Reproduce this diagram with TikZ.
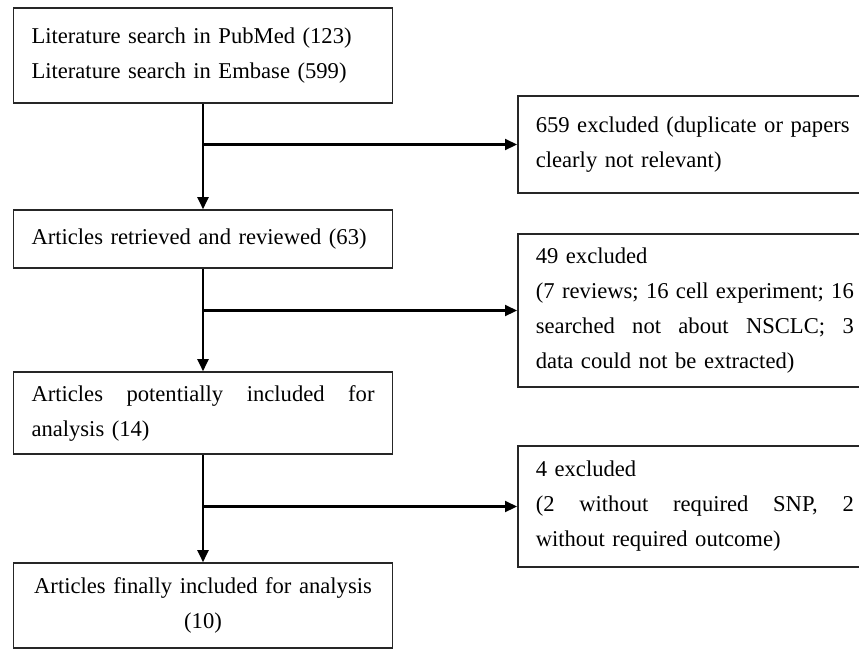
\documentclass[tikz,border=0pt]{standalone}
\usepackage{fontspec}
\setmainfont{Liberation Serif}
\usetikzlibrary{arrows.meta,calc}
\newcommand{\fullline}[2]{\leavevmode\hbox to #1{#2}}
\begin{document}
\begin{tikzpicture}[x=1pt,y=-1pt,
  box/.style={draw=black!85,line width=1.6pt,inner xsep=18pt,inner ysep=0pt,align=left,
    font=\fontsize{22.6}{35}\selectfont},
  lbox/.style={box,text width=343pt,minimum height=#1},
  rbox/.style={box,text width=318pt,minimum height=#1},
  arr/.style={line width=2.1pt,-{Triangle[length=12pt,width=11pt]}}]
\path[use as bounding box,clip] (0,0) rectangle (859,649);
\node[lbox=95pt] (b1) at (203,55.5) {Literature search in PubMed (123)\\Literature search in Embase (599)};
\node[lbox=58pt] (b2) at (203,239) {Articles retrieved and reviewed (63)};
\node[lbox=82pt] (b3) at (203,413) {\fullline{343pt}{Articles\hfill potentially\hfill included\hfill for}\\analysis (14)};
\node[lbox=85pt,align=center] (b4) at (203,605.5) {Articles finally included for analysis\\(10)};
\node[rbox=97pt,anchor=west] (r1) at (517,144.5) {659 excluded (duplicate or papers\\clearly not relevant)};
\node[rbox=153pt,anchor=west] (r2) at (517,310.5) {49 excluded\\\fullline{318pt}{(7 reviews;\hfill 16\hfill cell\hfill experiment;\hfill 16}\\\fullline{318pt}{searched\hfill not\hfill about\hfill NSCLC;\hfill 3}\\data could not be extracted)};
\node[rbox=121pt,anchor=west] (r3) at (517,506.5) {4 excluded\\\fullline{318pt}{(2\hfill without\hfill required\hfill SNP,\hfill 2}\\without required outcome)};
\draw[arr] (b1.south) -- (b2.north);
\draw[arr] (b2.south) -- (b3.north);
\draw[arr] (b3.south) -- (b4.north);
\draw[arr] (b1.south |- r1.west) -- (r1.west);
\draw[arr] (b2.south |- r2.west) -- (r2.west);
\draw[arr] (b3.south |- r3.west) -- (r3.west);
\end{tikzpicture}
\end{document}
